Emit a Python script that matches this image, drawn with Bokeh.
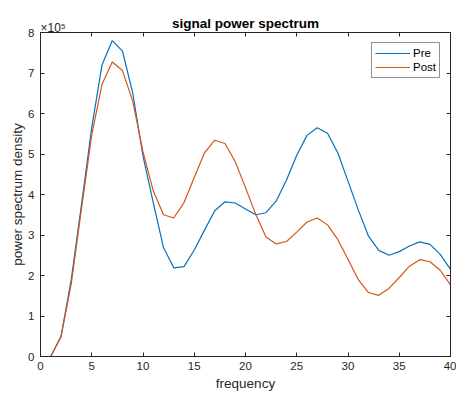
from bokeh.plotting import figure
from bokeh.models import Label, LinearAxis, Legend, LegendItem, FixedTicker, Range1d
from bokeh.embed import file_html
from bokeh.resources import INLINE

freq = list(range(1, 41))
# power spectrum density in units of 1e5
pre = [0.0, 0.5, 1.9, 3.75, 5.65, 7.2, 7.8, 7.54, 6.5, 4.95,
       3.8, 2.69, 2.19, 2.22, 2.63, 3.12, 3.6, 3.82, 3.79, 3.64,
       3.5, 3.55, 3.84, 4.36, 4.97, 5.46, 5.65, 5.51, 5.03, 4.33,
       3.62, 2.97, 2.62, 2.5, 2.59, 2.73, 2.83, 2.77, 2.52, 2.15]
post = [0.0, 0.48, 1.8, 3.65, 5.47, 6.72, 7.27, 7.06, 6.3, 5.05,
        4.09, 3.5, 3.42, 3.8, 4.42, 5.03, 5.34, 5.26, 4.81, 4.17,
        3.51, 2.95, 2.78, 2.84, 3.07, 3.32, 3.42, 3.25, 2.89, 2.4,
        1.9, 1.58, 1.51, 1.68, 1.95, 2.23, 2.39, 2.34, 2.13, 1.77]
x_ticks = [0, 5, 10, 15, 20, 25, 30, 35, 40]
y_ticks = [0, 1, 2, 3, 4, 5, 6, 7, 8]
title_text = "signal power spectrum"
exp_text = "×10⁵"
x_label = "frequency"
y_label = "power spectrum density"

FONT = "Liberation Sans"
AX = "#262626"

p = figure(width=456, height=397, output_backend="svg", toolbar_location=None,
           x_range=Range1d(0, 40), y_range=Range1d(0, 8),
           min_border_left=40, min_border_right=6, min_border_top=32, min_border_bottom=41,
           x_axis_location=None, y_axis_location=None)
p.background_fill_color = "white"
p.border_fill_color = "white"
p.grid.visible = False
p.outline_line_color = AX
p.outline_line_width = 1

def style_axis(ax, ticks, labels=True):
    ax.ticker = FixedTicker(ticks=ticks)
    ax.major_tick_in = 4
    ax.major_tick_out = 0
    ax.minor_tick_line_color = None
    ax.axis_line_color = AX
    ax.major_tick_line_color = AX
    ax.major_label_text_font = FONT
    ax.major_label_text_font_size = "11.5px" if labels else "0px"
    ax.major_label_text_color = AX if labels else None
    ax.axis_label_text_font = FONT
    ax.axis_label_text_font_size = "13.5px"
    ax.axis_label_text_font_style = "normal"
    ax.axis_label_text_color = AX

xb = LinearAxis(axis_label=x_label)
style_axis(xb, x_ticks)
xb.major_label_standoff = 5
xb.axis_label_standoff = 3
xt = LinearAxis()
style_axis(xt, x_ticks, labels=False)
xt.major_label_standoff = 0
yl = LinearAxis(axis_label=y_label)
style_axis(yl, y_ticks)
yl.major_label_standoff = 6
yl.axis_label_standoff = 0
yr = LinearAxis()
style_axis(yr, y_ticks, labels=False)
yr.major_label_standoff = 0
p.add_layout(xb, "below")
p.add_layout(xt, "above")
p.add_layout(yl, "left")
p.add_layout(yr, "right")

r1 = p.line(freq, pre, line_color="#0072BD", line_width=1.2)
r2 = p.line(freq, post, line_color="#D95319", line_width=1.2)

legend = Legend(items=[LegendItem(label="Pre", renderers=[r1]),
                       LegendItem(label="Post", renderers=[r2])],
                location="top_right")
legend.label_text_font = FONT
legend.label_text_font_size = "11.5px"
legend.label_text_color = "black"
legend.border_line_color = AX
legend.border_line_width = 1
legend.background_fill_alpha = 1
legend.glyph_width = 35
legend.glyph_height = 14
legend.label_height = 14
legend.label_standoff = 3
legend.spacing = 0
legend.padding = 3
legend.margin = 10
p.add_layout(legend, "center")

p.add_layout(Label(x=245, y=23, x_units="canvas", y_units="canvas", text=title_text,
                   text_font=FONT, text_font_size="13.5px", text_font_style="bold",
                   text_color="black", text_align="center", text_baseline="alphabetic"), "above")
p.add_layout(Label(x=40, y=27, x_units="canvas", y_units="canvas", text=exp_text,
                   text_font=FONT, text_font_size="12px", text_color=AX,
                   text_align="left", text_baseline="alphabetic"), "above")

open("out.html", "w").write(file_html(p, INLINE))
